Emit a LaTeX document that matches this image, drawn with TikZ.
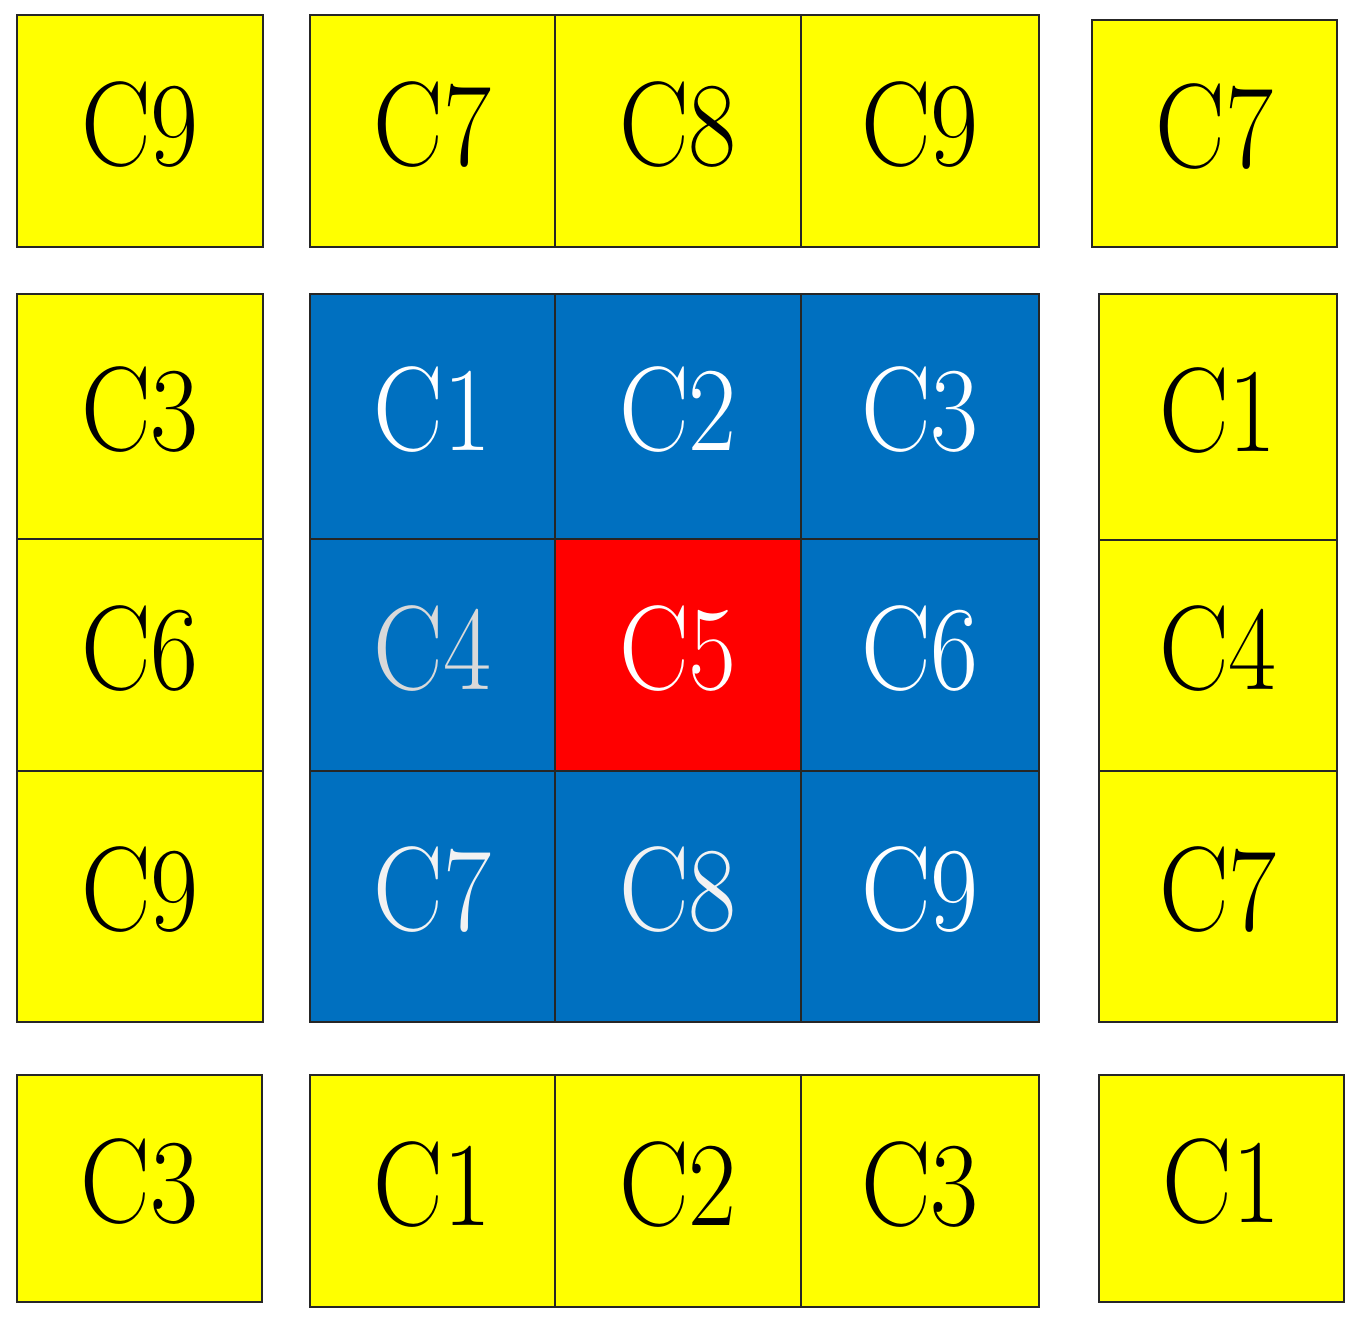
\documentclass[tikz,border=0pt]{standalone}
\usepackage{graphicx}
\definecolor{cblue}{HTML}{0070C0}
\definecolor{cred}{HTML}{FF0000}
\definecolor{cyel}{HTML}{FFFF00}
\definecolor{lgray}{HTML}{D9D9D9}
\definecolor{vlgray}{HTML}{F2F2F2}
\tikzset{
  cell/.style={draw=black!85, line width=1pt, inner sep=0pt, text height=41pt, text depth=7pt,
    font=\fontsize{60}{60}\selectfont},
  yel/.style={cell, fill=cyel, text=black},
  blu/.style={cell, fill=cblue, text=white},
  rd/.style={cell, fill=cred, text=white},
}
\newcommand\mycell[7]{%
  \node[#6, minimum width={(#4-#2)*0.5pt}, minimum height={(#5-#3)*0.5pt}]
    (#1) at ({(#2+#4)/2},{(#3+#5)/2}) {\scalebox{0.87}[1]{#7}};}
\begin{document}
\begin{tikzpicture}[x=0.5pt,y=-0.5pt]
\useasboundingbox (0,0) rectangle (1360,1323);
% top row
\mycell{tl}{17}{15}{263}{247}{yel}{C9}
\mycell{t1}{310}{15}{555}{247}{yel}{C7}
\mycell{t2}{555}{15}{801}{247}{yel}{C8}
\mycell{t3}{801}{15}{1039}{247}{yel}{C9}
\mycell{tr}{1092}{20}{1337}{247}{yel}{C7}
% left column
\mycell{l1}{17}{294}{263}{539}{yel}{C3}
\mycell{l2}{17}{539}{263}{771}{yel}{C6}
\mycell{l3}{17}{771}{263}{1022}{yel}{C9}
% centre
\mycell{c1}{310}{294}{555}{539}{blu}{C1}
\mycell{c2}{555}{294}{801}{539}{blu}{C2}
\mycell{c3}{801}{294}{1039}{539}{blu}{C3}
\mycell{c4}{310}{539}{555}{771}{blu,text=lgray}{C4}
\mycell{c5}{555}{539}{801}{771}{rd}{C5}
\mycell{c6}{801}{539}{1039}{771}{blu}{C6}
\mycell{c7}{310}{771}{555}{1022}{blu,text=vlgray}{C7}
\mycell{c8}{555}{771}{801}{1022}{blu,text=vlgray}{C8}
\mycell{c9}{801}{771}{1039}{1022}{blu}{C9}
% right column
\mycell{r1}{1099}{294}{1337}{540}{yel}{C1}
\mycell{r2}{1099}{540}{1337}{771}{yel}{C4}
\mycell{r3}{1099}{771}{1337}{1022}{yel}{C7}
% bottom row
\mycell{bl}{17}{1075}{262}{1302}{yel}{C3}
\mycell{b1}{310}{1075}{555}{1307}{yel}{C1}
\mycell{b2}{555}{1075}{801}{1307}{yel}{C2}
\mycell{b3}{801}{1075}{1039}{1307}{yel}{C3}
\mycell{br}{1099}{1075}{1344}{1302}{yel}{C1}
\end{tikzpicture}
\end{document}
